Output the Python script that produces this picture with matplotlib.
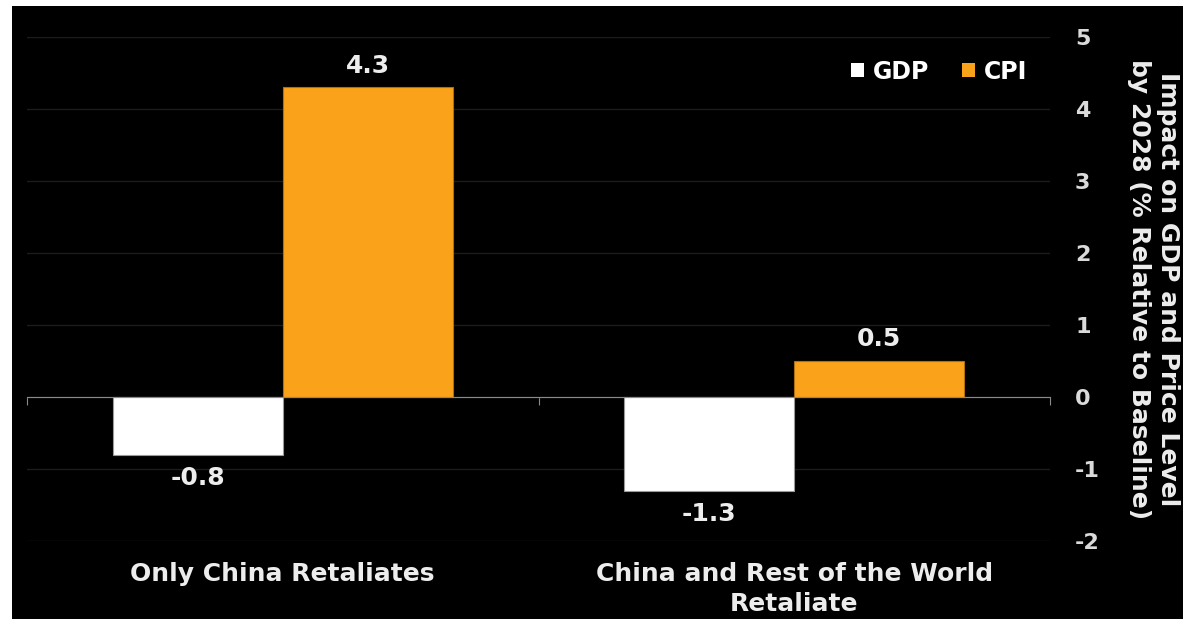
import matplotlib
matplotlib.use("Agg")
import matplotlib.pyplot as plt
import numpy as np
from matplotlib.patches import Rectangle

plt.rcParams["axes.unicode_minus"] = False

categories = ["Only China Retaliates", "China and Rest of the World\nRetaliate"]
gdp = [-0.8, -1.3]
cpi = [4.3, 0.5]
series_names = ["GDP", "CPI"]
yticks = [-2, -1, 0, 1, 2, 3, 4, 5]
ylabel = "Impact on GDP and Price Level\nby 2028 (% Relative to Baseline)"

W, H = 1183, 619
fig = plt.figure(figsize=(W / 100, H / 100), dpi=100, facecolor="white")
fig.patches.append(Rectangle((12 / W, 0), 1 - 12 / W, 1 - 6 / H, transform=fig.transFigure,
                             facecolor="black", edgecolor="none", zorder=-10))

ax = fig.add_axes([27 / W, 1 - 541 / H, (1050 - 27) / W, (541 - 37) / H])
ax.set_facecolor("black")

orange = "#FBA21B"
txt = "#EDEDED"
fs_val = 18
fs_cat = 18
bw = 0.332
x = np.arange(len(categories))
b1 = ax.bar(x - bw / 2, gdp, bw, color="white", edgecolor="#9a9a9a", linewidth=0.8, label=series_names[0], zorder=3)
b2 = ax.bar(x + bw / 2, cpi, bw, color=orange, edgecolor="#b07010", linewidth=0.8, label=series_names[1], zorder=3)

for bars, vals in ((b1, gdp), (b2, cpi)):
    for r, v in zip(bars, vals):
        cx = r.get_x() + r.get_width() / 2
        if v >= 0:
            ax.annotate(f"{v:.1f}", (cx, v), xytext=(0, 7), textcoords="offset points",
                        ha="center", va="bottom", color=txt, fontsize=fs_val, fontweight="bold")
        else:
            ax.annotate(f"{v:.1f}", (cx, v), xytext=(0, -8), textcoords="offset points",
                        ha="center", va="top", color=txt, fontsize=fs_val, fontweight="bold")

ax.set_xlim(-0.5, 1.5)
ax.set_ylim(-2, 5)
ax.set_yticks(yticks)
ax.yaxis.tick_right()
ax.yaxis.set_label_position("right")
ax.tick_params(axis="y", length=0, pad=18, labelcolor="#DADADA", labelsize=16)
for lab in ax.get_yticklabels():
    lab.set_fontweight("bold")
    lab.set_horizontalalignment("left")
ax.grid(axis="y", color="#1c1c1c", linewidth=1, zorder=0)
ax.set_axisbelow(True)

for s in ("top", "right", "left"):
    ax.spines[s].set_visible(False)
ax.spines["bottom"].set_position(("data", 0))
ax.spines["bottom"].set_color("#8a8a8a")
ax.spines["bottom"].set_zorder(4)
ax.set_xticks([-0.5, 0.5, 1.5])
ax.set_xticklabels([])
ax.tick_params(axis="x", direction="out", length=6, color="#8a8a8a")

for xi, c in zip(x, categories):
    ax.annotate(c, (xi, 0), xycoords=("data", "axes fraction"), xytext=(0, -15),
                textcoords="offset points", ha="center", va="top", color=txt,
                fontsize=fs_cat, fontweight="bold", linespacing=1.35)

ax.set_ylabel(ylabel, rotation=270, color=txt, fontsize=18, fontweight="bold",
              labelpad=58, linespacing=1.3)

leg = ax.legend(loc="upper right", bbox_to_anchor=(0.978, 0.955), ncol=2, frameon=False,
                borderaxespad=0, borderpad=0,
                handlelength=0.55, handleheight=0.55, handletextpad=0.38, columnspacing=1.4,
                prop={"size": 17, "weight": "bold"})
for t in leg.get_texts():
    t.set_color("white")
for h in leg.legend_handles:
    h.set_edgecolor("none")

fig.savefig("out.png", dpi=100, facecolor="white")
